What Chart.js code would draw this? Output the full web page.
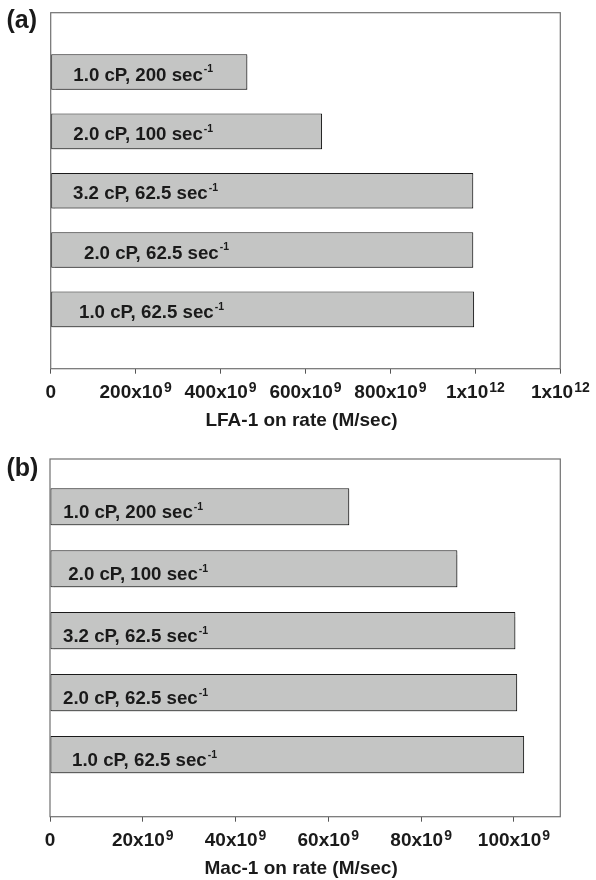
<!DOCTYPE html>
<html>
<head>
<meta charset="utf-8">
<script src="https://cdn.jsdelivr.net/npm/chart.js@4/dist/chart.umd.min.js"></script>
<style>
  html, body { margin: 0; padding: 0; background: #ffffff; }
  .panel { width: 596px; height: 440px; }
  canvas { display: block; }
</style>
</head>
<body>
<div class="panel"><canvas id="chartA" width="596" height="440"></canvas></div>
<div class="panel"><canvas id="chartB" width="596" height="440"></canvas></div>
<script>
// Flow conditions (viscosity, shear rate); "^" marks a superscript
const categories = [
  '1.0 cP, 200 sec^-1',
  '2.0 cP, 100 sec^-1',
  '3.2 cP, 62.5 sec^-1',
  '2.0 cP, 62.5 sec^-1',
  '1.0 cP, 62.5 sec^-1'
];

// On rates in units of 10^9 M/sec
const lfaOnRate = [463, 639, 995, 995, 997];
const macOnRate = [64.5, 87.8, 100.3, 100.7, 102.2];

// Axis tick labels
const lfaTickLabels = ['0', '200x10^9', '400x10^9', '600x10^9', '800x10^9', '1x10^12', '1x10^12'];
const macTickLabels = ['0', '20x10^9', '40x10^9', '60x10^9', '80x10^9', '100x10^9'];

const FAMILY = '"Liberation Sans", Arial, Helvetica, sans-serif';

// Draw "base^sup" text with a raised, smaller superscript
function drawRich(ctx, text, x, y, opt) {
  const parts = text.split('^');
  const base = parts[0];
  const sup = parts[1] || '';
  ctx.font = 'bold ' + opt.size + 'px ' + FAMILY;
  const wb = ctx.measureText(base).width;
  ctx.font = 'bold ' + opt.supSize + 'px ' + FAMILY;
  const ws = sup ? ctx.measureText(sup).width + opt.gap : 0;
  let x0 = x;
  if (opt.align === 'center') x0 = x - (wb + ws) / 2;
  ctx.textAlign = 'left';
  ctx.textBaseline = 'alphabetic';
  ctx.fillStyle = '#1a1a1a';
  ctx.font = 'bold ' + opt.size + 'px ' + FAMILY;
  ctx.fillText(base, x0, y);
  if (sup) {
    ctx.font = 'bold ' + opt.supSize + 'px ' + FAMILY;
    ctx.fillText(sup, x0 + wb + opt.gap, y - opt.rise);
  }
}

const panelDecor = {
  id: 'panelDecor',
  beforeDatasetsDraw(chart) {
    const { ctx, chartArea: a } = chart;
    ctx.save();
    ctx.strokeStyle = '#707070';
    ctx.lineWidth = 1.2;
    ctx.strokeRect(a.left, a.top, a.right - a.left, a.bottom - a.top);
    ctx.restore();
    // soft drop shadow under the bars
    ctx.save();
    ctx.shadowColor = 'rgba(0,0,0,0.28)';
    ctx.shadowOffsetX = 1.2;
    ctx.shadowOffsetY = 1.2;
    ctx.shadowBlur = 1;
  },
  afterDatasetsDraw(chart) {
    chart.ctx.restore();
  },
  afterDraw(chart, args, opts) {
    const { ctx, chartArea: a } = chart;
    const xs = chart.scales.x;
    ctx.save();
    // value axis tick labels
    xs.ticks.forEach((t, i) => {
      const label = opts.tickLabels[i];
      if (label === undefined) return;
      drawRich(ctx, label, xs.getPixelForValue(t.value), a.bottom + 29,
        { size: 19, supSize: 14, rise: 5.6, gap: 1, align: 'center' });
    });
    // axis title
    ctx.font = 'bold 19px ' + FAMILY;
    ctx.fillStyle = '#1a1a1a';
    ctx.textAlign = 'center';
    ctx.textBaseline = 'alphabetic';
    ctx.fillText(opts.title, (a.left + a.right) / 2 - 4, a.bottom + 57.3);
    // condition labels inside the bars
    const meta = chart.getDatasetMeta(0);
    meta.data.forEach((bar, i) => {
      drawRich(ctx, categories[i], a.left + opts.labelIndent[i], bar.y + opts.labelDrop,
        { size: 18.7, supSize: 10.5, rise: 8.3, gap: 1, align: 'left' });
    });
    // panel letter
    ctx.font = 'bold 25px ' + FAMILY;
    ctx.fillStyle = '#1a1a1a';
    ctx.textAlign = 'left';
    ctx.fillText(opts.letter, 6.5, opts.letterY);
    ctx.restore();
  }
};

function makeChart(id, values, cfg) {
  return new Chart(document.getElementById(id), {
    type: 'bar',
    data: {
      datasets: [{
        data: values.map((v, i) => ({ x: v, y: i + 1 })),
        backgroundColor: '#c4c5c4',
        borderColor: '#1a1a1a',
        borderWidth: 1,
        borderSkipped: false,
        categoryPercentage: 1,
        barPercentage: 0.6
      }]
    },
    options: {
      indexAxis: 'y',
      responsive: false,
      animation: false,
      events: [],
      layout: { padding: cfg.padding },
      scales: {
        x: {
          type: 'linear',
          min: 0,
          max: cfg.xMax,
          ticks: { display: false, stepSize: cfg.step, includeBounds: false },
          grid: { drawOnChartArea: false, drawTicks: true, tickLength: 5, color: '#555555', lineWidth: 1 },
          border: { display: false },
          afterFit(scale) { scale.height = 5; }
        },
        y: {
          type: 'linear',
          reverse: true,
          offset: false,
          min: cfg.yMin,
          max: 6,
          ticks: { display: false, stepSize: 1, includeBounds: false },
          grid: { display: false, offset: false },
          border: { display: false },
          afterFit(scale) { scale.width = 0; }
        }
      },
      plugins: {
        legend: { display: false },
        tooltip: { enabled: false },
        panelDecor: cfg.decor
      }
    },
    plugins: [panelDecor]
  });
}

makeChart('chartA', lfaOnRate, {
  xMax: 1200,
  step: 200,
  yMin: 0,
  padding: { left: 50.7, top: 12.7, right: 35.7, bottom: 66.3 },
  decor: {
    letter: '(a)', letterY: 27.8,
    title: 'LFA-1 on rate (M/sec)',
    tickLabels: lfaTickLabels,
    labelIndent: [22.6, 22.6, 22.3, 33.3, 28.3],
    labelDrop: 8.5
  }
});

makeChart('chartB', macOnRate, {
  xMax: 110,
  step: 20,
  yMin: 0.23,
  padding: { left: 50, top: 19, right: 35.7, bottom: 58.3 },
  decor: {
    letter: '(b)', letterY: 36.4,
    title: 'Mac-1 on rate (M/sec)',
    tickLabels: macTickLabels,
    labelIndent: [13.3, 18.3, 13, 13, 22],
    labelDrop: 11.5
  }
});
</script>
</body>
</html>
